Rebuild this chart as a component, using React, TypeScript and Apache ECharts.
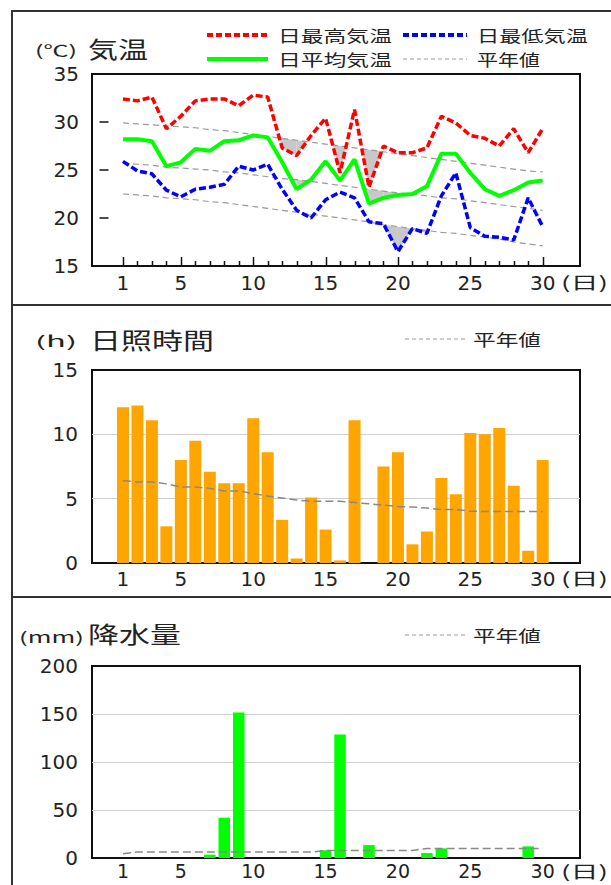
import React, { useEffect, useRef } from "react";
import * as echarts from "echarts";

const days = [1, 2, 3, 4, 5, 6, 7, 8, 9, 10, 11, 12, 13, 14, 15, 16, 17, 18, 19, 20, 21, 22, 23, 24, 25, 26, 27, 28, 29, 30];
const majorDays = [1, 5, 10, 15, 20, 25, 30];

const tempMax = [32.4, 32.2, 32.6, 29.3, 30.6, 32.2, 32.4, 32.4, 31.7, 32.8, 32.6, 27.3, 26.5, 28.6, 30.4, 24.7, 31.3, 23.2, 27.5, 26.8, 26.8, 27.3, 30.6, 29.9, 28.6, 28.3, 27.5, 29.3, 26.8, 29.3];
const tempAvg = [28.2, 28.2, 28.0, 25.4, 25.8, 27.2, 27.0, 28.0, 28.1, 28.6, 28.4, 25.8, 23.0, 24.0, 25.9, 23.9, 26.1, 21.5, 22.1, 22.4, 22.5, 23.3, 26.7, 26.7, 24.7, 23.0, 22.3, 22.9, 23.7, 23.9];
const tempMin = [25.9, 24.9, 24.6, 22.9, 22.2, 23.0, 23.2, 23.5, 25.4, 25.0, 25.6, 23.0, 20.8, 20.0, 21.9, 22.7, 22.1, 19.6, 19.4, 16.5, 18.9, 18.4, 22.3, 24.7, 19.0, 18.1, 18.0, 17.7, 22.1, 19.1];
const normMax = [29.9, 29.8, 29.7, 29.6, 29.5, 29.4, 29.2, 29.1, 28.9, 28.7, 28.5, 28.3, 28.1, 27.9, 27.7, 27.5, 27.3, 27.1, 26.9, 26.7, 26.5, 26.3, 26.1, 25.9, 25.7, 25.5, 25.3, 25.1, 24.9, 24.8];
const normAvg = [25.7, 25.6, 25.5, 25.3, 25.2, 25.1, 25.0, 24.8, 24.7, 24.5, 24.3, 24.1, 24.0, 23.8, 23.6, 23.4, 23.2, 23.0, 22.8, 22.6, 22.5, 22.3, 22.1, 22.0, 21.8, 21.6, 21.4, 21.2, 21.0, 20.8];
const normMin = [22.5, 22.4, 22.3, 22.1, 22.0, 21.9, 21.7, 21.6, 21.4, 21.2, 21.0, 20.8, 20.6, 20.4, 20.2, 20.0, 19.8, 19.6, 19.3, 19.1, 18.9, 18.7, 18.5, 18.4, 18.2, 18.0, 17.8, 17.5, 17.3, 17.1];

const sunshine = [12.1, 12.25, 11.1, 2.85, 8.0, 9.5, 7.1, 6.2, 6.2, 11.25, 8.6, 3.35, 0.35, 5.1, 2.6, 0.2, 11.1, 0, 7.5, 8.6, 1.45, 2.45, 6.6, 5.35, 10.1, 10.0, 10.5, 6.0, 0.95, 8.0];
const sunNormal = [6.4, 6.3, 6.3, 6.15, 5.9, 5.9, 5.8, 5.6, 5.6, 5.4, 5.2, 5.05, 4.9, 4.8, 4.8, 4.8, 4.7, 4.6, 4.5, 4.4, 4.35, 4.27, 4.15, 4.15, 4.03, 4.0, 4.0, 4.0, 4.0, 4.0];

const precip = [0, 0, 0, 0, 0, 0, 3.5, 42, 151.5, 0, 0, 0, 0, 0, 8, 128.6, 0, 13.5, 0, 0, 0, 5.2, 10, 0, 0, 0, 0, 0, 12.1, 0];
const precipNormal = [4.5, 6.2, 6.2, 6.2, 6.2, 6.2, 6.2, 6.2, 6.2, 6.2, 6.2, 6.2, 6.2, 6.2, 7.8, 7.8, 7.8, 7.8, 7.8, 7.8, 7.8, 10, 10, 10, 10, 10, 10, 10, 10, 10];

const tempTicks = [20, 25, 30];
const TEMP_MIN = 15;

const XMIN = -1.14;
const XMAX = 32.58;
const NUM_FONT = '"DejaVu Sans", sans-serif';
const JP_FONT = '"Noto Sans CJK JP", sans-serif';
const TXT = "#222";

function pairs(vals: number[]) {
  return vals.map((v, i) => [days[i], v]);
}

let ctx: CanvasRenderingContext2D | null = null;
function fitScale(text: string, size: number, family: string, target: number) {
  if (!ctx) ctx = document.createElement("canvas").getContext("2d");
  if (!ctx) return 1;
  ctx.font = `${size}px ${family}`;
  const w = ctx.measureText(text).width;
  return w > 0 ? target / w : 1;
}

function label(text: string, x: number, x2: number, y: number, size: number, family = JP_FONT) {
  return {
    type: "text",
    x,
    y,
    scaleX: fitScale(text, size, family, x2 - x),
    silent: true,
    style: {
      text,
      x: 0,
      y: 0,
      fill: TXT,
      fontSize: size,
      fontFamily: family,
      lineHeight: size,
      align: "left",
      verticalAlign: "middle",
      textAlign: "left",
      textVerticalAlign: "middle",
    },
  };
}

function hline(x1: number, x2: number, y: number, stroke: string, width: number, dash?: number[]) {
  return {
    type: "line",
    silent: true,
    shape: { x1, y1: y, x2, y2: y },
    style: { stroke, lineWidth: width, lineDash: dash },
  };
}

function shade(actual: number[], normal: number[]) {
  return {
    type: "custom",
    xAxisIndex: 0,
    yAxisIndex: 0,
    z: 1,
    silent: true,
    data: pairs(actual.slice(0, actual.length - 1)),
    renderItem: (params: any, api: any) => {
      const i = params.dataIndex;
      const x0 = days[i];
      const x1 = days[i + 1];
      const a0 = actual[i];
      const a1 = actual[i + 1];
      const n0 = normal[i];
      const n1 = normal[i + 1];
      const d0 = n0 - a0;
      const d1 = n1 - a1;
      let pts: number[][] = [];
      if (d0 > 0 && d1 > 0) {
        pts = [[x0, a0], [x1, a1], [x1, n1], [x0, n0]];
      } else if (d0 > 0) {
        const t = d0 / (d0 - d1);
        pts = [[x0, a0], [x0 + t * (x1 - x0), a0 + t * (a1 - a0)], [x0, n0]];
      } else if (d1 > 0) {
        const t = d0 / (d0 - d1);
        pts = [[x0 + t * (x1 - x0), a0 + t * (a1 - a0)], [x1, a1], [x1, n1]];
      }
      if (!pts.length) return { type: "group", children: [] };
      return {
        type: "polygon",
        shape: { points: pts.map((p) => api.coord(p)) },
        style: { fill: "#c8c8c8" },
      };
    },
  };
}

function xAxisBase(gridIndex: number) {
  return {
    type: "value",
    gridIndex,
    min: XMIN,
    max: XMAX,
    position: "bottom",
    splitLine: { show: false },
    axisLine: { show: false },
    axisTick: { show: false },
  };
}

const numLabel = { fontSize: 20, fontFamily: NUM_FONT, color: TXT };
const xLabel = { ...numLabel, lineHeight: 16 };

export default function App() {
  const ref = useRef<HTMLDivElement>(null);

  useEffect(() => {
    if (!ref.current) return;
    const chart = echarts.init(ref.current, undefined, { renderer: "svg" });

    const lineSeries = (vals: number[], color: string, width: number, type: any, z: number, xi = 0, yi = 0) => ({
      type: "line",
      xAxisIndex: xi,
      yAxisIndex: yi,
      data: pairs(vals),
      symbol: "none",
      z,
      silent: true,
      lineStyle: { color, width, type },
    });

    const option: any = {
      animation: false,
      backgroundColor: "#fff",
      grid: [
        { left: 92, top: 74, width: 488, height: 192, show: true, borderColor: "#111", borderWidth: 2 },
        { left: 92, top: 370, width: 488, height: 193, show: true, borderColor: "#111", borderWidth: 2 },
        { left: 92, top: 666, width: 488, height: 192, show: true, borderColor: "#111", borderWidth: 2 },
      ],
      xAxis: [
        {
          ...xAxisBase(0),
          axisLabel: { ...xLabel, margin: 9, customValues: majorDays },
        },
        {
          ...xAxisBase(1),
          axisLabel: { ...xLabel, margin: 8, customValues: majorDays },
        },
        {
          ...xAxisBase(2),
          axisLabel: { ...xLabel, fontSize: 19, margin: 5, customValues: majorDays },
        },
      ],
      yAxis: [
        {
          type: "value",
          gridIndex: 0,
          min: TEMP_MIN,
          max: 35,
          interval: 5,
          axisLine: { show: false },
          axisTick: { show: true, length: 9, customValues: tempTicks, lineStyle: { color: "#111", width: 1.5 } },
          axisLabel: { ...numLabel, margin: 13 },
          splitLine: { show: false },
        },
        {
          type: "value",
          gridIndex: 1,
          min: 0,
          max: 15,
          interval: 5,
          axisLine: { show: false },
          axisTick: { show: false },
          axisLabel: { ...numLabel, margin: 14 },
          splitLine: { show: true, showMinLine: false, showMaxLine: false, lineStyle: { color: "#cfcfcf", width: 1 } },
        },
        {
          type: "value",
          gridIndex: 2,
          min: 0,
          max: 200,
          interval: 50,
          axisLine: { show: false },
          axisTick: { show: false },
          axisLabel: { ...numLabel, margin: 14 },
          splitLine: { show: true, showMinLine: false, showMaxLine: false, lineStyle: { color: "#cfcfcf", width: 1 } },
        },
      ],
      series: [
        shade(tempMax, normMax),
        shade(tempAvg, normAvg),
        shade(tempMin, normMin),
        lineSeries(normMax, "#999", 1.2, [6, 4], 2),
        lineSeries(normAvg, "#999", 1.2, [6, 4], 2),
        lineSeries(normMin, "#999", 1.2, [6, 4], 2),
        lineSeries(tempAvg, "#00ff00", 4, "solid", 3),
        lineSeries(tempMax, "#ff0000", 3.5, [7, 3], 4),
        lineSeries(tempMin, "#0000ff", 3.5, [7, 3], 4),
        {
          type: "bar",
          xAxisIndex: 1,
          yAxisIndex: 1,
          data: pairs(sunshine),
          barWidth: 12,
          silent: true,
          itemStyle: { color: "#ffa500" },
          z: 2,
        },
        lineSeries(sunNormal, "#888", 1.5, [8, 4], 3, 1, 1),
        {
          type: "bar",
          xAxisIndex: 2,
          yAxisIndex: 2,
          data: pairs(precip),
          barWidth: 11.5,
          silent: true,
          itemStyle: { color: "#00ff00" },
          z: 2,
        },
        lineSeries(precipNormal, "#888", 1.5, [8, 4], 3, 2, 2),
      ],
    };

    chart.setOption(option);

    // day ticks on the temperature x axis, placed through the axis scales
    const yBase = Number(chart.convertToPixel({ yAxisIndex: 0 } as any, TEMP_MIN));
    const tickEls = days.map((d) => {
      const px = Number(chart.convertToPixel({ xAxisIndex: 0 } as any, d));
      const len = majorDays.indexOf(d) >= 0 ? 8 : 4;
      const x = Math.round(px) + 0.5;
      return {
        type: "line",
        silent: true,
        z: 50,
        shape: { x1: x, y1: yBase - 1, x2: x, y2: yBase - 1 - len },
        style: { stroke: "#111", lineWidth: 1.5 },
      };
    });

    chart.setOption({
      graphic: {
        elements: [
          // frame
          hline(11, 611, 11, "#333", 2),
          { type: "line", silent: true, shape: { x1: 12, y1: 10, x2: 12, y2: 885 }, style: { stroke: "#333", lineWidth: 2 } },
          hline(11, 611, 305, "#333", 2),
          hline(11, 611, 597, "#333", 2),
          // temperature title + legend
          label("(℃)", 35, 77, 49, 15),
          label("気温", 88, 148, 48, 23),
          hline(207, 268, 35, "#ff0000", 4, [6, 3]),
          label("日最高気温", 278, 392, 35, 16),
          hline(403, 467, 35, "#0000ff", 4, [6, 3]),
          label("日最低気温", 477, 588, 35, 16),
          hline(207, 268, 59, "#00ff00", 4),
          label("日平均気温", 278, 392, 59, 16),
          hline(403, 467, 59, "#999", 1.2, [4, 3]),
          label("平年値", 477, 540, 59, 16),
          label("(日)", 561, 608, 282, 17),
          // sunshine
          label("(h)", 35, 77, 340, 15),
          label("日照時間", 90, 214, 339, 23),
          hline(405, 466, 339, "#999", 1.2, [4, 3]),
          label("平年値", 473, 541, 339, 16),
          label("(日)", 561, 608, 578, 17),
          // precipitation
          label("(mm)", 19, 84, 637, 15),
          label("降水量", 88, 181, 633, 23),
          hline(405, 466, 635, "#999", 1.2, [4, 3]),
          label("平年値", 473, 541, 635, 16),
          label("(日)", 561, 608, 871, 17),
          ...tickEls,
        ],
      },
    });

    return () => chart.dispose();
  }, []);

  return (
    <div
      ref={ref}
      style={{ position: "absolute", left: 0, top: 0, width: 611, height: 885, background: "#fff" }}
    />
  );
}
